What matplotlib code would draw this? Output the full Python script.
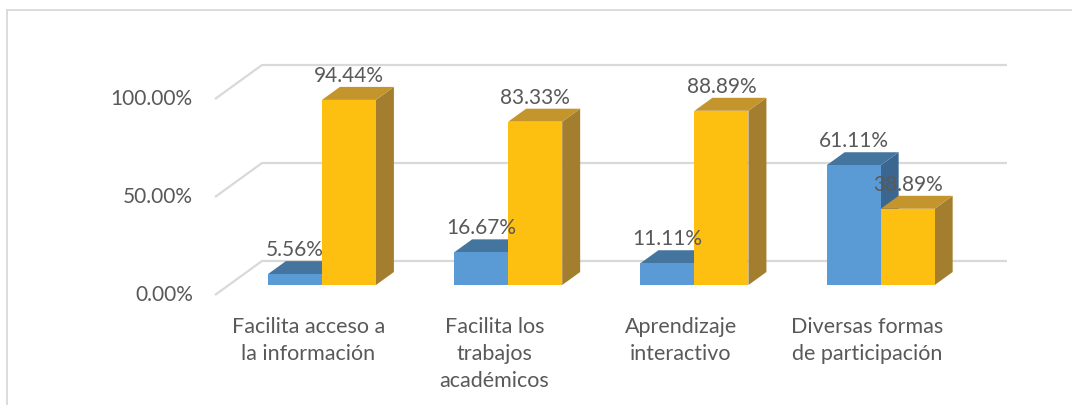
import matplotlib
matplotlib.use("Agg")
import matplotlib.pyplot as plt
from matplotlib.patches import Polygon
from matplotlib.lines import Line2D

# chart data
categories = ["Facilita acceso a\nla información",
              "Facilita los\ntrabajos\nacadémicos",
              "Aprendizaje\ninteractivo",
              "Diversas formas\nde participación"]
serie_1 = [5.56, 16.67, 11.11, 61.11]
serie_2 = [94.44, 83.33, 88.89, 38.89]
ticks = [0, 50, 100]

# colours (front, top, side)
blue = ("#5B9BD5", "#44759F", "#3B6690")
gold = ("#FDC010", "#C4952C", "#A37E2E")
grid_c = "#D9D9D9"
text_c = "#595959"

plt.rcParams["font.family"] = ["Lato", "DejaVu Sans"]

W, H = 1072, 405
fig = plt.figure(figsize=(W / 100, H / 100), dpi=100)
ax = fig.add_axes([0, 0, 1, 1])

# oblique projection set-up (pixel layout of the plot area)
px_cat = 186.25      # pixels per category
px_pct = 1.96        # pixels per percent
x0_px, y0_px = 215, 295   # front-left corner of the floor
dx_px, dy_px = 47, 34     # full depth offset
DX = dx_px / px_cat
DY = dy_px / px_pct
ax.set_xlim(-0.5 - x0_px / px_cat, -0.5 + (W - x0_px) / px_cat)
ax.set_ylim((y0_px - H) / px_pct, y0_px / px_pct)
ax.axis("off")


def proj(x, v, z):
    return (x + z * DX, v + z * DY)


# side wall and back wall gridlines
for t in ticks:
    a = proj(-0.5, t, 0)
    b = proj(-0.5, t, 1)
    c = proj(3.5, t, 1)
    ax.plot([a[0], b[0], c[0]], [a[1], b[1], c[1]], color=grid_c, lw=1.6,
            solid_capstyle="butt", zorder=1)
    ax.annotate(f"{t:.2f}%", a, xytext=(-16, 0), textcoords="offset points",
                ha="right", va="center", fontsize=15, color=text_c)

z0, z1 = 0.294, 0.676
w = 0.29


def bar3d(xl, v, cols, zo):
    xr = xl + w
    front = [proj(xl, 0, z0), proj(xr, 0, z0), proj(xr, v, z0), proj(xl, v, z0)]
    top = [proj(xl, v, z0), proj(xr, v, z0), proj(xr, v, z1), proj(xl, v, z1)]
    side = [proj(xr, 0, z0), proj(xr, 0, z1), proj(xr, v, z1), proj(xr, v, z0)]
    ax.add_patch(Polygon(side, closed=True, fc=cols[2], ec="none", zorder=zo))
    ax.add_patch(Polygon(top, closed=True, fc=cols[1], ec="none", zorder=zo))
    ax.add_patch(Polygon(front, closed=True, fc=cols[0], ec="none", zorder=zo + 0.1))
    lx, _ = proj(xl + w / 2, v, z0)
    _, ly = proj(xl, v, z1)
    ax.annotate(f"{v:.2f}%", (lx, ly), xytext=(0, 8), textcoords="offset points",
                ha="center", va="center", fontsize=15, color=text_c, zorder=10)


for i in range(len(categories)):
    bar3d(i - w, serie_1[i], blue, 2 + i)
    bar3d(i, serie_2[i], gold, 2.5 + i)
    ax.annotate(categories[i], proj(i, 0, 0), xytext=(0, -16),
                textcoords="offset points", ha="center", va="top",
                fontsize=15.5, color=text_c, linespacing=1.42)

# chart frame
fig.add_artist(Line2D([7 / W, 1], [1 - 10 / H, 1 - 10 / H], color=grid_c, lw=1.3))
fig.add_artist(Line2D([7 / W, 7 / W], [0, 1 - 10 / H], color=grid_c, lw=1.3))

fig.savefig("out.png", dpi=100)
